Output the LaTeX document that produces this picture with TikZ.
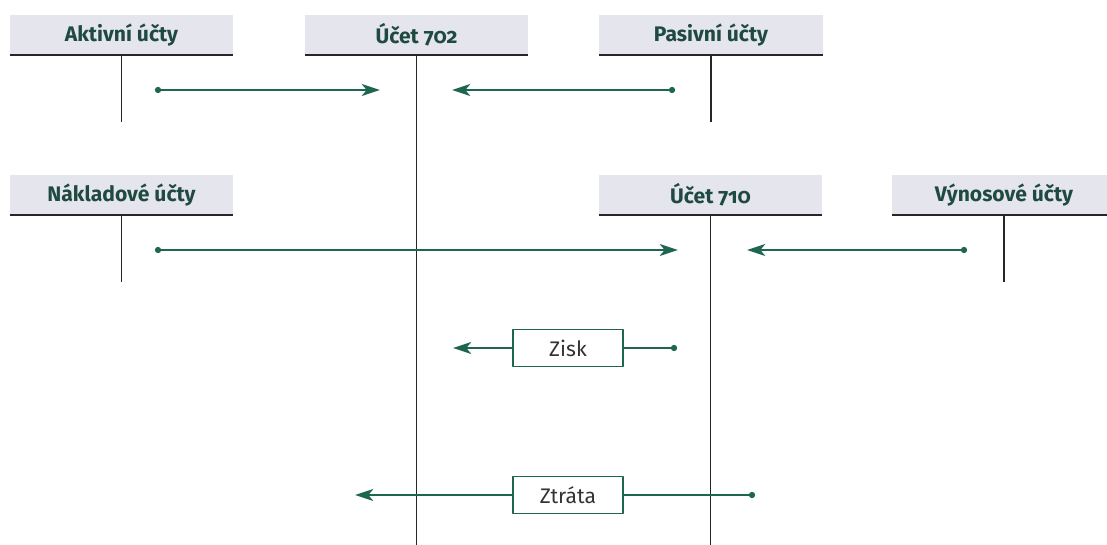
\documentclass[tikz,border=0pt]{standalone}
\usepackage{fontspec}
\setmainfont{Fira Sans}[Numbers=OldStyle]
\usetikzlibrary{arrows.meta,positioning}
\definecolor{hdrgray}{HTML}{E5E5ED}
\definecolor{acctgreen}{HTML}{1E6552}
\definecolor{hdrtext}{HTML}{1F4A40}
\definecolor{tagtext}{HTML}{333333}

\tikzset{
  header/.style={fill=hdrgray,minimum width=5.575cm,minimum height=0.975cm,inner sep=0pt,
    font=\bfseries\fontsize{15}{17}\selectfont,text=hdrtext},
  hline/.style={black!85,line width=1.3pt},
  tline/.style={black!85,line width=0.8pt},
  flow/.style={acctgreen,line width=1.1pt,-{Stealth[length=13pt,width=8.5pt,inset=3.5pt]}},
  tag/.style={draw=acctgreen,line width=0.8pt,fill=white,minimum width=2.75cm,minimum height=0.925cm,
    inner sep=0pt,font=\fontsize{15}{17}\selectfont,text=tagtext},
  dot/.style={circle,fill=acctgreen,inner sep=0pt,minimum size=4.5pt}
}

\begin{document}
\begin{tikzpicture}[x=0.025cm,y=-0.025cm,line join=round,line cap=butt]
  \useasboundingbox (0,0) rectangle (1107,545);

  % account headers
  \node[header] (akt) at (121.5,35) {Aktivní účty};
  \node[header] (u702) at (416.5,35) {Účet 702};
  \node[header] (pas) at (711,35) {Pasivní účty};
  \node[header] (nak) at (121.5,195) {Nákladové účty};
  \node[header] (u710) at (710.5,195) {Účet 710};
  \node[header] (vyn) at (1004,195) {Výnosové účty};

  % T-account lines
  \foreach \h/\e in {akt/122,pas/122,nak/282,vyn/282,u702/545,u710/545}{
    \draw[hline] (\h.south west) -- (\h.south east);
    \draw[tline] (\h.south) -- (\h.south |- 0,\e);
  }

  % flows into 702
  \node[dot] (d1) at (158,90) {};
  \coordinate (t1) at (380,90);
  \draw[flow] (d1.center) -- (t1);
  \node[dot] (d2) at (672,90) {};
  \coordinate (t2) at (452,90);
  \draw[flow] (d2.center) -- (t2);

  % flows into 710
  \node[dot] (d3) at (158,250) {};
  \coordinate (t3) at (678,250);
  \draw[flow] (d3.center) -- (t3);
  \node[dot] (d4) at (964,250) {};
  \coordinate (t4) at (747,250);
  \draw[flow] (d4.center) -- (t4);

  % result transfer
  \node[tag] (zisk) at (568,348) {Zisk};
  \node[dot] (d5) at (674,348) {};
  \coordinate (t5) at (453,348);
  \draw[acctgreen,line width=1.1pt] (d5.center) -- (zisk.east);
  \draw[flow] (zisk.west) -- (t5);

  \node[tag] (ztr) at (568,495) {Ztráta};
  \node[dot] (d6) at (752,495) {};
  \coordinate (t6) at (355,495);
  \draw[acctgreen,line width=1.1pt] (d6.center) -- (ztr.east);
  \draw[flow] (ztr.west) -- (t6);
\end{tikzpicture}
\end{document}
